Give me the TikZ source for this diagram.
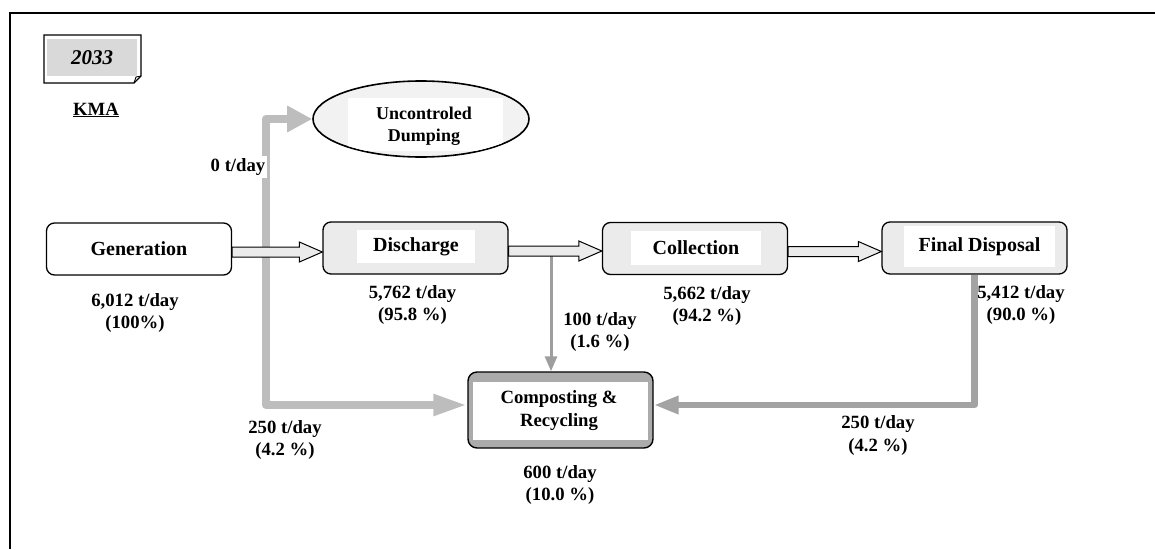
\documentclass[tikz,border=0pt]{standalone}
\usepackage{fontspec}
\setmainfont{Liberation Serif}
\usetikzlibrary{arrows.meta,shapes.geometric,calc}
\definecolor{boxfill}{HTML}{EBEBEB}
\definecolor{notefill}{HTML}{D9D9D9}
\definecolor{flowlight}{HTML}{BDBDBD}
\definecolor{flowdark}{HTML}{A3A3A3}
\definecolor{flowthin}{HTML}{9E9E9E}
\definecolor{compband}{HTML}{ABABAB}
\definecolor{ellfill}{HTML}{F2F2F2}

% broad outlined arrow between two process boxes
\newcommand\hollowarrow[2]{%
  \draw[hollow] let \p1=(#1.east), \p2=(#2.west) in
    (\x1,{\y1-3pt+5pt}) -- ({\x2-23pt},{\y1-3pt+5pt}) -- ({\x2-23pt},{\y1-3pt+10pt})
    -- (\x2,{\y1-3pt}) -- ({\x2-23pt},{\y1-3pt-10pt}) -- ({\x2-23pt},{\y1-3pt-5pt})
    -- (\x1,{\y1-3pt-5pt}) -- cycle;}

\begin{document}
\begin{tikzpicture}[x=1pt,y=-1pt,
  lbl/.style={font=\fontsize{20}{22}\selectfont\bfseries, inner sep=0pt},
  val/.style={font=\fontsize{18.7}{22}\selectfont\bfseries, inner sep=0pt, anchor=base},
  procbox/.style={draw=black, line width=1.3pt, rounded corners=8pt, fill=boxfill,
                  minimum width=185pt, minimum height=52pt, inner sep=0pt},
  innerbox/.style={fill=white, inner sep=0pt},
  hollow/.style={draw=black, line width=1pt, fill=boxfill, line join=miter},
  flow/.style={line join=round}
]
\useasboundingbox (0,0) rectangle (1155,549);

% frame
\draw[line width=1.8pt] (10,549) -- (10,13) -- (1155,13);

% year tag with folded corner
\draw[line width=1.2pt, fill=white] (44,35) -- (141,35) -- (141,76) -- (134,83) -- (44,83) -- cycle;
\fill[notefill] (47,39) rectangle (137,76);
\draw[line width=0.8pt] (141,76) -- (136,77) -- (134,83);
\node[font=\fontsize{21}{24}\selectfont\bfseries\itshape, inner sep=0pt] (year) at (92,58) {2033};
\node[font=\fontsize{18.7}{22}\selectfont\bfseries, inner sep=0pt, anchor=base] (kma) at (96,115) {\underline{KMA}};

% process boxes
\node[procbox, fill=white] (gen) at (139,249) {};
\node[lbl] (gent) at (139,249) {Generation};

\node[procbox] (dis) at (415.5,248) {};
\node[innerbox, minimum width=118pt, minimum height=33pt, lbl] (dist) at (416,246.5) {Discharge};

\node[procbox] (col) at (695,248.5) {};
\node[innerbox, minimum width=130pt, minimum height=34pt, lbl] (colt) at (696,248) {Collection};

\node[procbox] (fin) at (974.5,248) {};
\node[innerbox, minimum width=151pt, minimum height=41pt, lbl] (fint) at (979.5,246.5) {Final Disposal};

\node[draw=black, line width=1.4pt, rounded corners=9pt, fill=compband,
      minimum width=185pt, minimum height=76pt, inner sep=0pt] (comp) at (560.5,410) {};
\node[innerbox, minimum width=175pt, minimum height=58pt] (compin) at (560.5,411) {};
\node[lbl, align=center, font=\fontsize{18.7}{23}\selectfont\bfseries] (compt) at (559,411) {Composting \&\\Recycling};

% uncontrolled dumping
\node[ellipse, draw=black, line width=1.6pt, fill=ellfill,
      minimum width=216pt, minimum height=76pt, inner sep=0pt] (dump) at (421,119) {};
\begin{scope}
  \clip (421,119) ellipse [x radius=107pt, y radius=37pt];
  \fill[white] (348,98) rectangle (503,151);
\end{scope}
\node[align=center, font=\fontsize{18}{22}\selectfont\bfseries, inner sep=0pt] (dumpt) at (424,126) {Uncontroled\\Dumping};

% branch points on the main flow
\coordinate (split) at (266,252);
\coordinate (split2) at (551,251);

% side flows
\draw[flow, draw=flowlight, line width=8pt, -{Triangle[length=25pt,width=25pt]}]
  (split) |- (dump.west);
\draw[flow, draw=flowlight, line width=8pt, -{Triangle[length=34pt,width=20pt]}]
  (split) |- ([yshift=5pt]comp.west);
\draw[flow, draw=flowthin, line width=3pt, -{Triangle[length=15pt,width=12pt]}]
  (split2) -- (split2 |- comp.north);
\draw[flow, draw=flowdark, line width=6.5pt, -{Triangle[length=25pt,width=17pt]}]
  (fin.south) |- ([yshift=5pt]comp.east);

% main flow arrows
\hollowarrow{gen}{dis}
\hollowarrow{dis}{col}
\hollowarrow{col}{fin}

% quantities
\node[font=\fontsize{18.7}{22}\selectfont\bfseries, fill=white, inner sep=2pt] (q0) at (238,167) {0 t/day};

\node[val] (g1) at (135,306) {6,012 t/day};
\node[val] (g2) at (135,328) {(100\%)};
\node[val] (d1) at (412.5,298) {5,762 t/day};
\node[val] (d2) at (412.5,320) {(95.8 \%)};
\node[val] (c1) at (707,299) {5,662 t/day};
\node[val] (c2) at (707,321) {(94.2 \%)};
\node[val] (f1) at (1021,298) {5,412 t/day};
\node[val] (f2) at (1021,320) {(90.0 \%)};
\node[val] (r1) at (600,325) {100 t/day};
\node[val] (r2) at (600,347) {(1.6 \%)};
\node[val] (l1) at (285,433) {250 t/day};
\node[val] (l2) at (285,455) {(4.2 \%)};
\node[val] (e1) at (878,428) {250 t/day};
\node[val] (e2) at (878,451) {(4.2 \%)};
\node[val] (t1) at (560,478) {600 t/day};
\node[val] (t2) at (560,500) {(10.0 \%)};
\end{tikzpicture}
\end{document}
